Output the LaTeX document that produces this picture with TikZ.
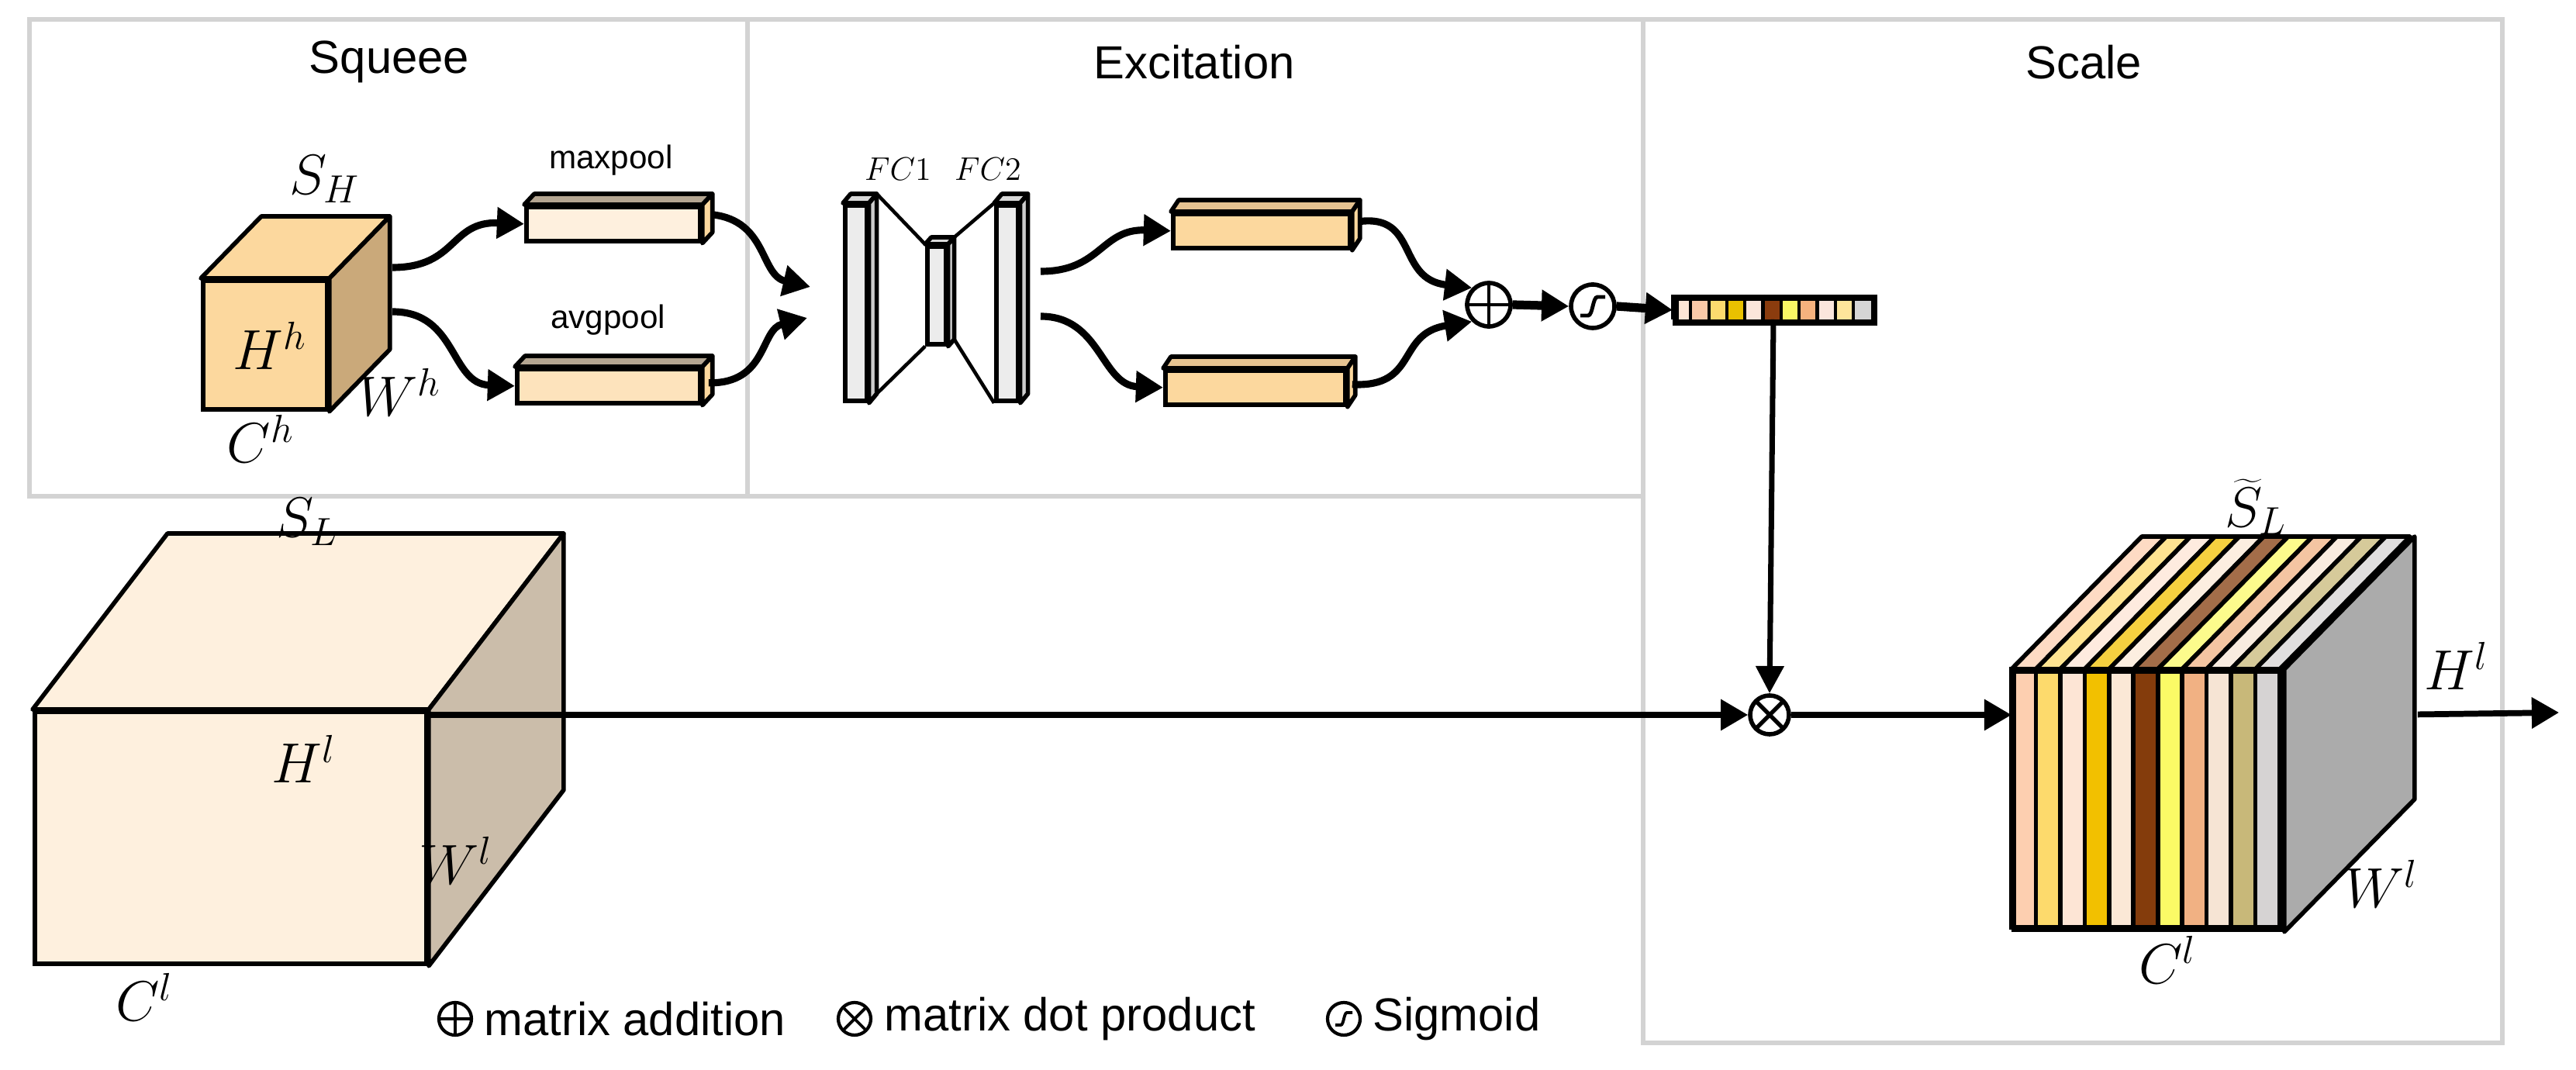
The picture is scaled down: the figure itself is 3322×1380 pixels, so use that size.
\documentclass[tikz,border=0pt]{standalone}
\usepackage{fontspec}
\setmainfont{Liberation Sans}
\usetikzlibrary{calc,arrows.meta}
\definecolor{gbox}{HTML}{D3D3D3}
\definecolor{c1}{HTML}{FDCFB0}\definecolor{c2}{HTML}{FDDA6C}\definecolor{c3}{HTML}{FDE5D5}
\definecolor{c4}{HTML}{F2C000}\definecolor{c5}{HTML}{FBE8D6}\definecolor{c6}{HTML}{843C0C}
\definecolor{c7}{HTML}{FBFA66}\definecolor{c8}{HTML}{F1B183}\definecolor{c9}{HTML}{F6E4D4}
\definecolor{c10}{HTML}{C8B879}\definecolor{c11}{HTML}{D6D3D3}
\definecolor{v1}{HTML}{FDE5D5}\definecolor{v2}{HTML}{FBC9A8}\definecolor{v3}{HTML}{FCDB6E}
\definecolor{v4}{HTML}{E9C100}\definecolor{v5}{HTML}{FBE5DA}\definecolor{v6}{HTML}{8B3C0E}
\definecolor{v7}{HTML}{F8F765}\definecolor{v8}{HTML}{F6B27E}\definecolor{v9}{HTML}{FBE5DC}
\definecolor{v10}{HTML}{FEE59B}\definecolor{v11}{HTML}{D5D5D5}
\newcommand\mydepth[5]{%
  \filldraw[fill=#4,line width=1.6pt,line join=round] (#1.north west) -- ++(#2,-#3) -- ($(#1.north east)+(#2,-#3)$) -- (#1.north east) -- cycle;
  \filldraw[fill=#5,line width=1.6pt,line join=round] (#1.north east) -- ++(#2,-#3) -- ($(#1.south east)+(#2,-#3)$) -- (#1.south east) -- cycle;}
\tikzset{
  gb/.style={draw=gbox,line width=1.6pt},
  ttl/.style={font=\fontsize{17}{20}\selectfont},
  sm/.style={font=\fontsize{12}{14}\selectfont},
  mlab/.style={font=\fontsize{21}{24}\selectfont},
  face/.style={draw=black,line width=1.6pt,inner sep=0,anchor=north west},
  arr/.style={line width=2.6pt,-{Triangle[length=10pt,width=11pt]}},
  thin/.style={line width=1.3pt},
  op/.style={circle,draw=black,line width=1.6pt,minimum size=0.56cm,inner sep=0},
  lop/.style={circle,draw=black,line width=1.2pt,minimum size=0.42cm,inner sep=0},
  leg/.style={font=\fontsize{17}{20}\selectfont,anchor=west}
}
\begin{document}
\begin{tikzpicture}[x=0.01cm,y=-0.01cm]
\useasboundingbox (0,0) rectangle (3322,1380);
% section boxes
\draw[gb] (38,25) rectangle (964,640);
\draw[gb] (964,25) -- (2119,25) -- (2119,640) -- (964,640);
\draw[gb] (2119,25) rectangle (3227,1345);
\node[ttl] (t1) at (502,80) {Squeee};
\node[ttl] (t2) at (1540,80) {Excitation};
\node[ttl] (t3) at (2687,80) {Scale};
% small cube
\node[face,fill={rgb,255:red,252;green,216;blue,158},minimum width=1.6cm,minimum height=1.66cm] (cH) at (259,359) {};
\mydepth{cH}{78}{80}{{rgb,255:red,252;green,216;blue,158}}{{rgb,255:red,202;green,169;blue,122}}
\node[mlab] (lSH) at (419,231) {$S_H$};
\node[mlab] (lHh) at (348,446) {$H^h$};
\node[mlab] (lWh) at (515,506) {$W^h$};
\node[mlab] (lCh) at (336,566) {$C^h$};
% pooling bars
\node[face,fill={rgb,255:red,254;green,240;blue,222},minimum width=2.24cm,minimum height=0.44cm] (mp) at (676,264) {};
\mydepth{mp}{13}{14}{{rgb,255:red,180;green,165;blue,145}}{{rgb,255:red,252;green,216;blue,158}}
\node[face,fill={rgb,255:red,253;green,227;blue,188},minimum width=2.36cm,minimum height=0.44cm] (ap) at (664,473) {};
\mydepth{ap}{13}{14}{{rgb,255:red,180;green,165;blue,145}}{{rgb,255:red,252;green,216;blue,158}}
\node[sm] (lmp) at (788,207) {maxpool};
\node[sm] (lap) at (784,413) {avgpool};
% FC plates
\node[face,fill=gray!15,minimum width=0.28cm,minimum height=2.52cm] (f1) at (1087,262) {};
\mydepth{f1}{10}{12}{gray!30}{gray!40}
\node[face,fill=gray!15,minimum width=0.24cm,minimum height=1.26cm] (f2) at (1193,315) {};
\mydepth{f2}{8}{9}{gray!30}{gray!40}
\node[face,fill=gray!15,minimum width=0.28cm,minimum height=2.52cm] (f3) at (1282,262) {};
\mydepth{f3}{10}{12}{gray!30}{gray!40}
\draw[thin] ($(f1.north east)+(10,-12)$) -- (f2.north west);
\draw[thin] ($(f1.south east)+(10,-12)$) -- (f2.south west);
\draw[thin] ($(f2.north east)+(8,-9)$) -- (f3.north west);
\draw[thin] ($(f2.south east)+(8,-9)$) -- (f3.south west);
\node[font=\fontsize{13}{15}\selectfont,inner sep=1pt] (lf1) at (1158,218) {$FC1$};
\node[font=\fontsize{13}{15}\selectfont,inner sep=1pt] (lf2) at (1274,218) {$FC2$};
% excitation bars
\node[face,fill={rgb,255:red,252;green,216;blue,158},minimum width=2.28cm,minimum height=0.44cm] (eb1) at (1510,273) {};
\mydepth{eb1}{10}{15}{{rgb,255:red,230;green,195;blue,145}}{{rgb,255:red,252;green,216;blue,158}}
\node[face,fill={rgb,255:red,252;green,216;blue,158},minimum width=2.32cm,minimum height=0.44cm] (eb2) at (1500,475) {};
\mydepth{eb2}{10}{15}{{rgb,255:red,230;green,195;blue,145}}{{rgb,255:red,252;green,216;blue,158}}
% operators
\node[op] (plus) at (1920,393) {};
\draw[line width=1.4pt] (plus.north) -- (plus.south) (plus.west) -- (plus.east);
\node[op] (sig) at (2054,395) {};
\draw[line width=1.4pt] ($(sig)+(-16,12)$) -- ($(sig)+(-6,12)$) .. controls ($(sig)+(0,12)$) and ($(sig)+(0,-12)$) .. ($(sig)+(6,-12)$) -- ($(sig)+(16,-12)$);
% vector
\foreach \i in {1,...,11}{
  \fill[v\i] ({2157+(\i-1)*23.3},380) rectangle ({2157+\i*23.3},412);
  \draw[line width=1.2pt] ({2157+(\i-1)*23.3},380) -- ({2157+(\i-1)*23.3},412);
}
\node[draw=black,line width=2.2pt,minimum width=2.56cm,minimum height=0.32cm,inner sep=0,anchor=north west] (vec) at (2157,380) {};
\node[op,minimum size=0.5cm] (dot) at (2282,922) {};
\draw[line width=1.5pt] ($(dot)+(-17.5,-17.5)$) -- ($(dot)+(17.5,17.5)$) ($(dot)+(-17.5,17.5)$) -- ($(dot)+(17.5,-17.5)$);
% big left cube
\node[face,fill={rgb,255:red,254;green,240;blue,222},minimum width=5.05cm,minimum height=3.25cm] (cL) at (42,915) {};
\mydepth{cL}{174}{227}{{rgb,255:red,254;green,240;blue,222}}{{rgb,255:red,203;green,189;blue,170}}
\node[mlab] (lSL) at (396,673) {$S_L$};
\node[mlab] (lHl) at (392,979) {$H^l$};
\node[mlab] (lWl) at (588,1110) {$W^l$};
\node[mlab] (lCl) at (186,1286) {$C^l$};
% right striped cube
\foreach \i in {1,...,11}{
  \pgfmathsetmacro\xa{2594+(\i-1)*31.45}\pgfmathsetmacro\xb{2594+\i*31.45}
  \filldraw[fill=c\i!75!white,line width=1.6pt,line join=round] (\xa,863) -- ++(168,-171) -- (\xb+168,692) -- (\xb,863) -- cycle;
  \filldraw[fill=c\i,line width=1.6pt] (\xa,863) rectangle (\xb,1196);
}
\node[draw=black,line width=1.6pt,minimum width=3.46cm,minimum height=3.33cm,inner sep=0,anchor=north west] (cS) at (2594,863) {};
\filldraw[fill={rgb,255:red,171;green,171;blue,171},line width=1.6pt,line join=round] (cS.north east) -- ++(168,-171) -- ($(cS.south east)+(168,-171)$) -- (cS.south east) -- cycle;
\node[mlab] (lSt) at (2909,654) {$\widetilde{S}_L$};
\node[mlab] (lHl2) at (3168,859) {$H^l$};
\node[mlab] (lWl2) at (3071,1140) {$W^l$};
\node[mlab] (lCl2) at (2795,1238) {$C^l$};
\coordinate (out) at (3300,919);
% connectors
\draw[arr] (506,345) .. controls (590,345) and (580,285) .. (mp.west);
\draw[arr] (506,402) .. controls (590,402) and (580,495) .. (ap.west);
\draw[arr] ($(mp.east)+(13,-12)$) .. controls (990,285) and (980,355) .. (1045,370);
\draw[arr] ($(ap.east)+(8,-4)$) .. controls (990,495) and (980,425) .. (1041,410);
\draw[arr] (1342,350) .. controls (1420,350) and (1420,295) .. (eb1.west);
\draw[arr] (1342,408) .. controls (1420,408) and (1420,497) .. (eb2.west);
\draw[arr] ($(eb1.east)+(8,-12)$) .. controls (1830,275) and (1800,360) .. (plus.north west);
\draw[arr] ($(eb2.east)+(6,-4)$) .. controls (1830,500) and (1800,430) .. (plus.south west);
\draw[arr,line width=3.2pt] (plus.east) -- (sig.west);
\draw[arr,line width=3.2pt] (sig.east) -- (vec.west);
\draw[line width=2pt,-{Triangle[length=10pt,width=10pt]}] (2287,412) -- (dot.north);
\draw[arr,line width=2.2pt] (cL.east|-dot) -- (dot.west);
\draw[arr,line width=2.2pt] (dot.east) -- (cS.west|-dot);
\draw[arr,line width=2.2pt] ($(cS.east)+(172,-111)$) -- (out);
% legend
\node[lop] (lp) at (587,1314) {};
\draw[line width=1.1pt] (lp.north) -- (lp.south) (lp.west) -- (lp.east);
\node[leg] (tp) at (612,1314) {matrix addition};
\node[lop] (ld) at (1102,1314) {};
\draw[line width=1.1pt] ($(ld)+(-15,-15)$) -- ($(ld)+(15,15)$) ($(ld)+(-15,15)$) -- ($(ld)+(15,-15)$);
\node[leg] (td) at (1128,1314) {matrix dot product};
\node[lop] (ls) at (1733,1314) {};
\draw[line width=1.1pt] ($(ls)+(-11,8)$) -- ($(ls)+(-4,8)$) .. controls ($(ls)+(0,8)$) and ($(ls)+(0,-8)$) .. ($(ls)+(4,-8)$) -- ($(ls)+(11,-8)$);
\node[leg] (ts) at (1758,1314) {Sigmoid};
\end{tikzpicture}
\end{document}
